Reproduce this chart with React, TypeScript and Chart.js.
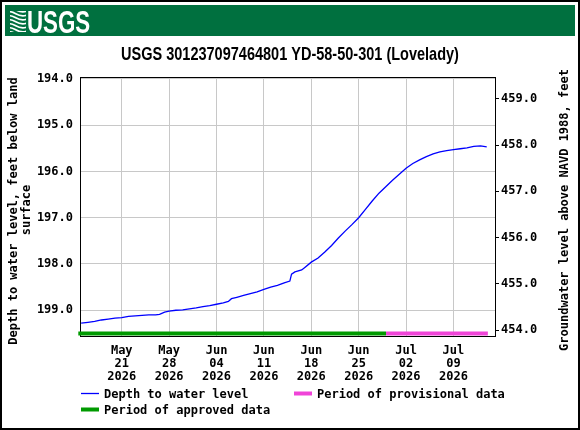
import { useEffect, useRef } from 'react';
import { Chart, registerables } from 'chart.js';

Chart.register(...registerables);

// Site information
const siteTitle = 'USGS 301237097464801 YD-58-50-301 (Lovelady)';
const landSurfaceElevation = 653.43; // feet above NAVD 1988

// Depth to water level, feet below land surface
const depthDates = [
  '2026-05-15', '2026-05-16', '2026-05-17', '2026-05-18', '2026-05-19', '2026-05-20',
  '2026-05-21', '2026-05-22', '2026-05-23', '2026-05-24', '2026-05-25', '2026-05-26',
  '2026-05-26T14:00', '2026-05-27T08:00', '2026-05-28', '2026-05-29', '2026-05-30', '2026-05-31',
  '2026-06-01', '2026-06-02', '2026-06-03', '2026-06-04', '2026-06-05', '2026-06-05T18:00',
  '2026-06-06T05:00', '2026-06-07', '2026-06-08', '2026-06-09', '2026-06-10', '2026-06-11',
  '2026-06-12', '2026-06-13', '2026-06-14', '2026-06-14T20:00', '2026-06-15T02:00', '2026-06-15T14:00',
  '2026-06-16T14:00', '2026-06-17', '2026-06-18', '2026-06-19', '2026-06-20', '2026-06-21',
  '2026-06-22', '2026-06-23', '2026-06-24', '2026-06-25', '2026-06-26', '2026-06-27',
  '2026-06-28', '2026-06-29', '2026-06-30', '2026-07-01', '2026-07-02', '2026-07-03',
  '2026-07-04', '2026-07-05', '2026-07-06', '2026-07-07', '2026-07-08', '2026-07-09',
  '2026-07-10', '2026-07-11', '2026-07-12', '2026-07-13', '2026-07-13T22:00',
];
const depthValues = [
  199.28, 199.26, 199.24, 199.21, 199.19, 199.17,
  199.16, 199.13, 199.12, 199.11, 199.10, 199.10,
  199.09, 199.04, 199.02, 199.00, 198.99, 198.97,
  198.95, 198.92, 198.90, 198.87, 198.84, 198.81,
  198.75, 198.72, 198.68, 198.64, 198.60, 198.55,
  198.50, 198.46, 198.41, 198.37, 198.22, 198.17,
  198.13, 198.08, 197.96, 197.87, 197.74, 197.60,
  197.44, 197.29, 197.15, 197.00, 196.82, 196.64,
  196.47, 196.33, 196.19, 196.06, 195.93, 195.83,
  195.75, 195.68, 195.62, 195.58, 195.55, 195.53,
  195.51, 195.49, 195.46, 195.45, 195.47,
];

// Data approval periods
const approvedPeriod = ['2026-05-14T14:00', '2026-06-29T01:00'];
const provisionalPeriod = ['2026-06-29T01:00', '2026-07-14T02:00'];
const periodBarDepth = 199.5;

// Axis extents and ticks
const depthRange = [193.96, 199.556];
const dateRange = ['2026-05-14T20:00', '2026-07-15T03:20'];
const depthTicks = [194, 195, 196, 197, 198, 199];
const elevationTicks = [454, 455, 456, 457, 458, 459];
const weekTicks = [
  '2026-05-21', '2026-05-28', '2026-06-04', '2026-06-11',
  '2026-06-18', '2026-06-25', '2026-07-02', '2026-07-09',
];
const monthNames = ['Jan', 'Feb', 'Mar', 'Apr', 'May', 'Jun', 'Jul', 'Aug', 'Sep', 'Oct', 'Nov', 'Dec'];

const COLORS = {
  banner: '#00703f',
  depth: '#0000ff',
  approved: '#009a00',
  provisional: '#f044d8',
  grid: '#c8c8c8',
};
const MONO = '"DejaVu Sans Mono", "Liberation Mono", monospace';
const SANS = '"Liberation Sans", Arial, sans-serif';

function toMs(s: string): number {
  const [d, t] = s.split('T');
  const [y, m, day] = d.split('-').map(Number);
  const [hh, mm] = t ? t.split(':').map(Number) : [0, 0];
  return Date.UTC(y, m - 1, day, hh, mm);
}

function dateLabel(v: number): string[] {
  const d = new Date(v);
  return [
    monthNames[d.getUTCMonth()],
    String(d.getUTCDate()).padStart(2, '0'),
    String(d.getUTCFullYear()),
  ];
}

function drawRotated(ctx: CanvasRenderingContext2D, text: string, x: number, y: number) {
  ctx.save();
  ctx.translate(x, y);
  ctx.rotate(-Math.PI / 2);
  ctx.textAlign = 'center';
  ctx.textBaseline = 'middle';
  ctx.fillText(text, 0, 0);
  ctx.restore();
}

const decorPlugin = {
  id: 'usgsDecor',
  beforeDraw(chart: any) {
    const ctx: CanvasRenderingContext2D = chart.ctx;
    const W = chart.width;
    const H = chart.height;
    ctx.save();
    ctx.fillStyle = '#ffffff';
    ctx.fillRect(0, 0, W, H);

    // banner
    ctx.fillStyle = COLORS.banner;
    ctx.fillRect(5, 5, W - 10, 31);

    // wave emblem
    ctx.save();
    ctx.beginPath();
    ctx.rect(10, 11, 16, 21);
    ctx.clip();
    ctx.strokeStyle = '#ffffff';
    ctx.lineWidth = 1.7;
    for (let i = -1; i < 6; i++) {
      const y0 = 12 + i * 4;
      ctx.beginPath();
      ctx.moveTo(9, y0);
      ctx.bezierCurveTo(14, y0 - 2, 18, y0 + 7, 27, y0 + 3);
      ctx.stroke();
    }
    ctx.restore();

    // wordmark
    ctx.save();
    ctx.fillStyle = '#ffffff';
    ctx.font = `bold 31px ${SANS}`;
    ctx.textBaseline = 'alphabetic';
    ctx.translate(27, 32.5);
    ctx.scale(0.72, 1);
    ctx.fillText('USGS', 0, 0);
    ctx.restore();

    // title
    ctx.save();
    ctx.fillStyle = '#000000';
    ctx.font = `bold 17.7px ${SANS}`;
    ctx.textAlign = 'center';
    ctx.textBaseline = 'middle';
    ctx.translate(290, 55);
    ctx.scale(0.82, 1);
    ctx.fillText(siteTitle, 0, 0);
    ctx.restore();

    // outer border
    ctx.strokeStyle = '#000000';
    ctx.lineWidth = 2;
    ctx.strokeRect(1, 1, W - 2, H - 2);
    ctx.restore();
  },
  beforeDatasetsDraw(chart: any) {
    const ctx: CanvasRenderingContext2D = chart.ctx;
    const a = chart.chartArea;
    ctx.save();
    ctx.strokeStyle = '#000000';
    ctx.lineWidth = 1;
    ctx.strokeRect(Math.round(a.left) + 0.5, Math.round(a.top) + 0.5,
      Math.round(a.right - a.left), Math.round(a.bottom - a.top));
    ctx.restore();
  },
  afterDraw(chart: any) {
    const ctx: CanvasRenderingContext2D = chart.ctx;
    ctx.save();
    ctx.fillStyle = '#000000';
    ctx.font = `bold 12px ${MONO}`;
    drawRotated(ctx, 'Depth to water level, feet below land', 14, 211);
    drawRotated(ctx, 'surface', 27, 210);
    drawRotated(ctx, 'Groundwater level above NAVD 1988, feet', 565, 210);

    // legend
    const ds = chart.data.datasets;
    const items = [
      { d: ds[0], x: 81, y: 394.5, w: 1.3 },
      { d: ds[2], x: 294, y: 394.5, w: 4 },
      { d: ds[1], x: 81, y: 410.5, w: 4 },
    ];
    ctx.textAlign = 'left';
    ctx.textBaseline = 'middle';
    for (const it of items) {
      ctx.strokeStyle = it.d.borderColor;
      ctx.lineWidth = it.w;
      ctx.beginPath();
      ctx.moveTo(it.x, it.y - 1);
      ctx.lineTo(it.x + 18, it.y - 1);
      ctx.stroke();
      ctx.fillStyle = '#000000';
      ctx.fillText(it.d.label, it.x + 23, it.y);
    }
    ctx.restore();
  },
};

export default function App() {
  const canvasRef = useRef<HTMLCanvasElement | null>(null);

  useEffect(() => {
    if (!canvasRef.current) return;
    const tickFont = { family: MONO, size: 12, weight: 'bold' as const, lineHeight: 13.2 / 12 };
    const depthPoints = depthDates.map((d, i) => ({ x: toMs(d), y: depthValues[i] }));
    const periodPoints = (p: string[]) => p.map((d) => ({ x: toMs(d), y: periodBarDepth }));

    const chart = new Chart(canvasRef.current, {
      type: 'line',
      data: {
        datasets: [
          {
            label: 'Depth to water level',
            data: depthPoints,
            borderColor: COLORS.depth,
            borderWidth: 1.3,
            pointRadius: 0,
            tension: 0,
            yAxisID: 'y',
          },
          {
            label: 'Period of approved data',
            data: periodPoints(approvedPeriod),
            borderColor: COLORS.approved,
            borderWidth: 4,
            borderCapStyle: 'butt',
            pointRadius: 0,
            clip: false as any,
            yAxisID: 'y',
          },
          {
            label: 'Period of provisional data',
            data: periodPoints(provisionalPeriod),
            borderColor: COLORS.provisional,
            borderWidth: 4,
            borderCapStyle: 'butt',
            pointRadius: 0,
            clip: false as any,
            yAxisID: 'y',
          },
        ],
      },
      options: {
        animation: false,
        responsive: false,
        maintainAspectRatio: false,
        devicePixelRatio: 1,
        layout: { padding: { top: 77, bottom: 44, left: 0, right: 0 } },
        plugins: {
          legend: { display: false },
          tooltip: { enabled: false },
          title: { display: false },
        },
        scales: {
          x: {
            type: 'linear',
            min: toMs(dateRange[0]),
            max: toMs(dateRange[1]),
            afterBuildTicks: (s: any) => {
              s.ticks = weekTicks.map((d) => ({ value: toMs(d) }));
            },
            afterFit: (s: any) => {
              s.height = 50;
            },
            grid: { color: COLORS.grid, drawTicks: false },
            border: { display: false },
            ticks: {
              autoSkip: false,
              maxRotation: 0,
              padding: 8,
              color: '#000000',
              font: tickFont,
              callback: (v: any) => dateLabel(Number(v)),
            },
          },
          y: {
            type: 'linear',
            position: 'left',
            reverse: true,
            min: depthRange[0],
            max: depthRange[1],
            afterBuildTicks: (s: any) => {
              s.ticks = depthTicks.map((v) => ({ value: v }));
            },
            afterFit: (s: any) => {
              s.width = 80;
            },
            grid: { color: COLORS.grid, drawTicks: false },
            border: { display: false },
            ticks: {
              padding: 7,
              color: '#000000',
              font: tickFont,
              callback: (v: any) => Number(v).toFixed(1),
            },
          },
          y2: {
            type: 'linear',
            position: 'right',
            min: landSurfaceElevation - depthRange[1],
            max: landSurfaceElevation - depthRange[0],
            afterBuildTicks: (s: any) => {
              s.ticks = elevationTicks.map((v) => ({ value: v }));
            },
            afterFit: (s: any) => {
              s.width = 85;
            },
            grid: { drawOnChartArea: false, drawTicks: true, tickLength: 4, color: '#000000' },
            border: { display: false },
            ticks: {
              padding: 2,
              color: '#000000',
              font: tickFont,
              callback: (v: any) => Number(v).toFixed(1),
            },
          },
        },
      },
      plugins: [decorPlugin],
    } as any);

    return () => chart.destroy();
  }, []);

  return (
    <div style={{ position: 'fixed', left: 0, top: 0, width: 580, height: 430, background: '#fff' }}>
      <canvas ref={canvasRef} width={580} height={430} style={{ display: 'block', width: 580, height: 430 }} />
    </div>
  );
}
